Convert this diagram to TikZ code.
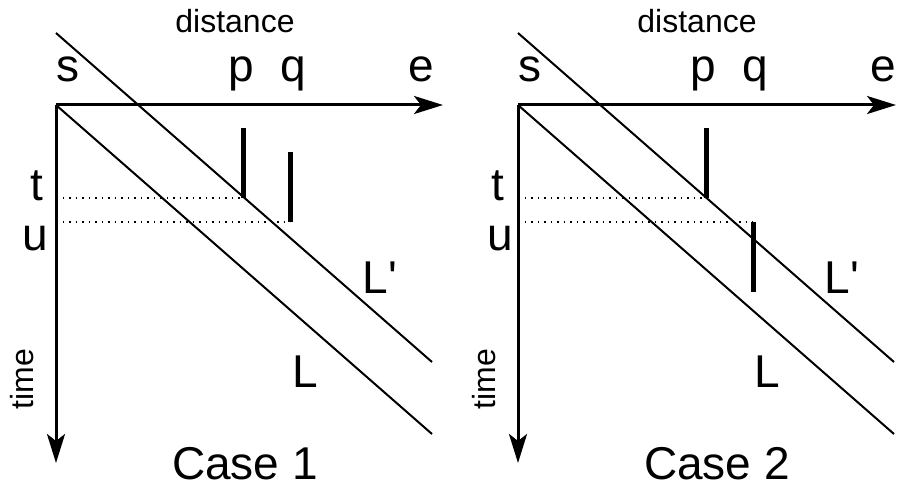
\documentclass[tikz,border=0pt]{standalone}
\usepackage{fontspec}
\setmainfont{Liberation Sans}[Ligatures=TeXOff]
\usetikzlibrary{arrows.meta}

\begin{document}
\begin{tikzpicture}[x=0.5pt,y=-0.5pt,
axis/.style={line width=1.5pt,-{Stealth[length=14.5pt,width=9pt,inset=3.5pt]}},
path/.style={line width=1pt},
stop/.style={line width=2.5pt},
level/.style={line width=0.9pt,dash pattern=on 0.9pt off 2.35pt},
lbl/.style={inner sep=0pt,anchor=base,font=\fontsize{23}{27}\selectfont},
ax/.style={inner sep=0pt,anchor=base,font=\fontsize{16}{19}\selectfont}]
\useasboundingbox (0,0) rectangle (897,486);

% case 1
\coordinate (o1) at (56,105);
\coordinate (x1) at (443,105);
\coordinate (y1) at (56,463);
\coordinate (t1) at (56,198);
\coordinate (u1) at (56,222);
\coordinate (pt1) at (243,128);
\coordinate (pb1) at (243,198);
\coordinate (qt1) at (290,152);
\coordinate (qb1) at (290,222);
\coordinate (la1) at (432,434);
\coordinate (ma1) at (56,33);
\coordinate (mb1) at (432,362);
\draw[axis] (o1) -- (x1);
\draw[axis] (o1) -- (y1);
\draw[path] (o1) -- (la1);
\draw[path] (ma1) -- (mb1);
\draw[level] (t1) -- (pb1);
\draw[level] (u1) -- (qb1);
\draw[stop] (pt1) -- (pb1);
\draw[stop] (qt1) -- (qb1);
\node[ax] (dist1) at (235,33) {distance};
\node[ax,rotate=90] (time1) at (33,379) {time};
\node[lbl] (s1) at (68,82) {s};
\node[lbl] (p1) at (241,82) {p};
\node[lbl] (q1) at (293,82) {q};
\node[lbl] (e1) at (421,82) {e};
\node[lbl] (tl1) at (37,200) {t};
\node[lbl] (ul1) at (35,250) {u};
\node[lbl] (Lp1) at (380,293) {L'};
\node[lbl] (L1) at (305,387) {L};
\node[lbl] (case1) at (245,479) {Case 1};

% case 2
\coordinate (o2) at (518,105);
\coordinate (x2) at (896,105);
\coordinate (y2) at (518,463);
\coordinate (t2) at (518,198);
\coordinate (u2) at (518,222);
\coordinate (pt2) at (706,128);
\coordinate (pb2) at (706,198);
\coordinate (qt2) at (753,222);
\coordinate (qb2) at (753,292);
\coordinate (la2) at (894,434);
\coordinate (ma2) at (518,33);
\coordinate (mb2) at (894,362);
\draw[axis] (o2) -- (x2);
\draw[axis] (o2) -- (y2);
\draw[path] (o2) -- (la2);
\draw[path] (ma2) -- (mb2);
\draw[level] (t2) -- (pb2);
\draw[level] (u2) -- (qt2);
\draw[stop] (pt2) -- (pb2);
\draw[stop] (qt2) -- (qb2);
\node[ax] (dist2) at (697,33) {distance};
\node[ax,rotate=90] (time2) at (495,379) {time};
\node[lbl] (s2) at (530,82) {s};
\node[lbl] (p2) at (703,82) {p};
\node[lbl] (q2) at (755,82) {q};
\node[lbl] (e2) at (883,82) {e};
\node[lbl] (tl2) at (498,200) {t};
\node[lbl] (ul2) at (500,250) {u};
\node[lbl] (Lp2) at (842,293) {L'};
\node[lbl] (L2) at (767,387) {L};
\node[lbl] (case2) at (717,479) {Case 2};
\end{tikzpicture}
\end{document}
